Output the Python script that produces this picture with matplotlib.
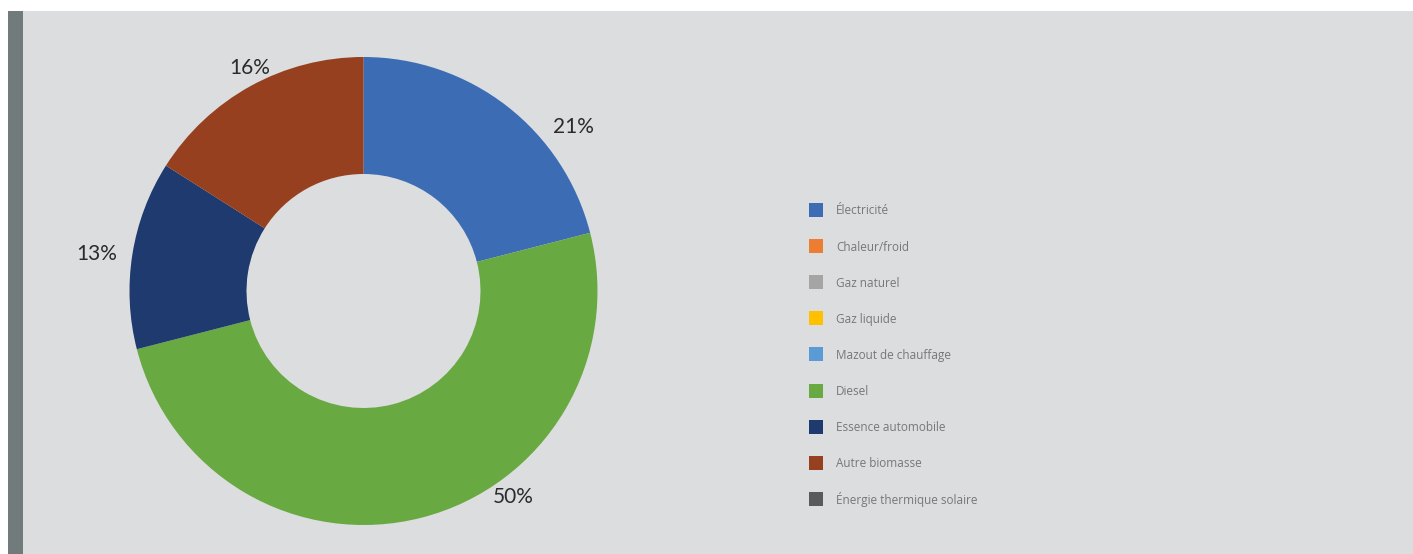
import matplotlib
matplotlib.use("Agg")
import matplotlib.pyplot as plt
from matplotlib.patches import Rectangle
import numpy as np

# Energy mix by source (percent)
categories = ["Électricité", "Chaleur/froid", "Gaz naturel", "Gaz liquide",
              "Mazout de chauffage", "Diesel", "Essence automobile",
              "Autre biomasse", "Énergie thermique solaire"]
values = [21, 0, 0, 0, 0, 50, 13, 16, 0]
colors = ["#3c6db4", "#ed7d31", "#a5a5a5", "#ffc000", "#5b9bd5",
          "#69a941", "#1e3a6e", "#96401f", "#5a5a5a"]
value_labels = ["21%", "", "", "", "", "50%", "13%", "16%", ""]

# label placement: (angle from top, clockwise, in degrees ; radius)
label_pos = {0: (52, 1.14), 5: (144, 1.09), 6: (-82, 1.15), 7: (-27, 1.07)}

W, H = 1413, 554
fig = plt.figure(figsize=(W / 100, H / 100), dpi=100)
fig.patch.set_facecolor("white")

# panel background and side strip
fig.add_artist(Rectangle((8 / W, 0), (W - 8) / W, (H - 11) / H,
                         transform=fig.transFigure, color="#dcdddf", lw=0, zorder=0))
fig.add_artist(Rectangle((8 / W, 0), 15 / W, (H - 11) / H,
                         transform=fig.transFigure, color="#717b7b", lw=0, zorder=0))

cx, cy, r = 363.5, 291, 234
ax = fig.add_axes([(cx - r) / W, (H - cy - r) / H, 2 * r / W, 2 * r / H])
ax.set_facecolor("none")
ax.pie(values, colors=colors, startangle=90, counterclock=False, radius=1,
       wedgeprops=dict(width=0.5, edgecolor="none"))
ax.set_xlim(-1, 1)
ax.set_ylim(-1, 1)
ax.set_aspect("equal")
ax.axis("off")

for i, lab in enumerate(value_labels):
    if not lab:
        continue
    ang, rad = label_pos[i]
    th = np.deg2rad(ang)
    ax.text(rad * np.sin(th), rad * np.cos(th), lab, ha="center", va="center",
            fontsize=15, family="Lato", fontweight="normal", color="#2b2b2b")

# legend
y0, step = 210, 36.1
for i, (cat, col) in enumerate(zip(categories, colors)):
    y = y0 + i * step
    fig.add_artist(Rectangle((809 / W, 1 - (y + 7) / H), 14 / W, 14 / H,
                             transform=fig.transFigure, color=col, lw=0))
    fig.text(836 / W, 1 - (y + 1) / H, cat, ha="left", va="center",
             fontsize=8.5, family="Open Sans", color="#777777")

fig.savefig("out.png", dpi=100, facecolor=fig.get_facecolor())
